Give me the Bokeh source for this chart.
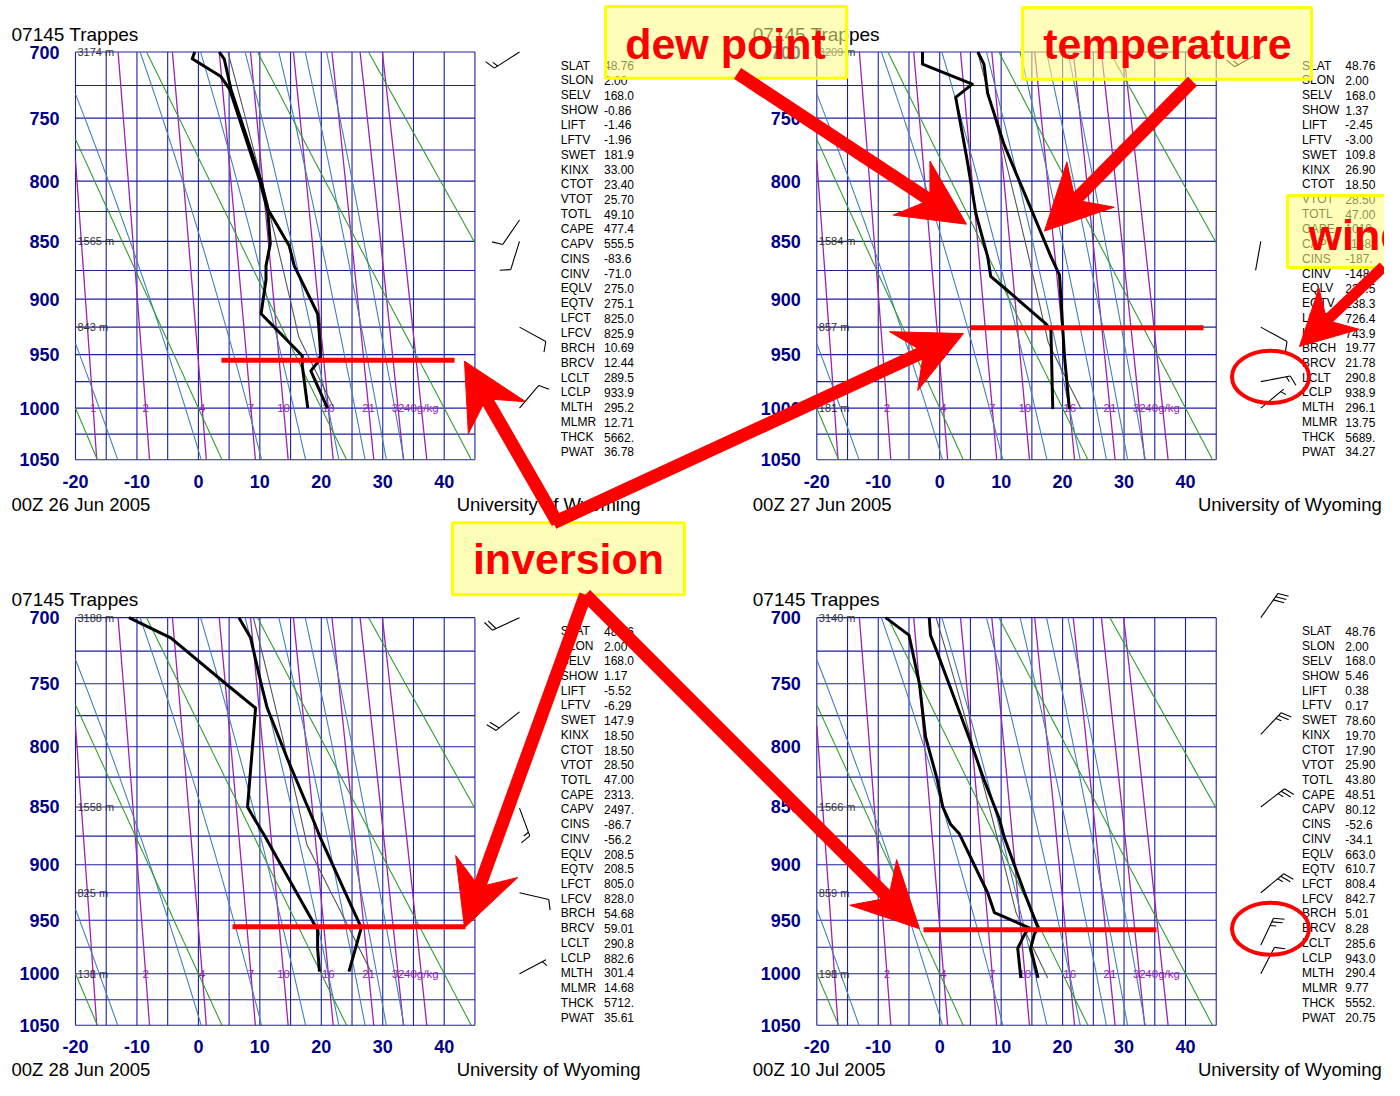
import math
import numpy as np
from bokeh.plotting import figure
from bokeh.models import Range1d
from bokeh.embed import file_html
from bokeh.resources import INLINE
from bokeh.core.properties import value

# ------------------------------------------------------------------ data
STATION_TITLE = "07145  Trappes"
CREDIT = "University of Wyoming"
DATES = ["00Z 26 Jun 2005", "00Z 27 Jun 2005", "00Z 28 Jun 2005", "00Z 10 Jul 2005"]

T_TICKS = [-20, -10, 0, 10, 20, 30, 40]
P_TICKS = [700, 750, 800, 850, 900, 950, 1000, 1050]
ISOTHERMS = [-20, -15, -10, -5, 0, 5, 10, 15, 20, 25, 30, 35, 40, 45]
ISOBARS = [700, 725, 750, 775, 800, 825, 850, 875, 900, 925, 950, 975, 1000, 1025, 1050]
DRY_THETA = [253.15, 273.15, 293.15, 313.15, 333.15, 353.15]
MOIST_THETAE = [260, 280, 300, 320, 340, 360, 380, 400]
MIX_RATIOS = [1, 2, 4, 7, 10, 16, 24, 32, 40]
MIX_LABELS = ["1", "2", "4", "7", "10", "16", "21", "32", "40g/kg"]

# 00Z 26 Jun 2005
S1_TP = [1000, 965, 957, 951, 925, 913, 871, 854, 824, 800, 728, 705, 700]
S1_T = [21.0, 18.3, 19.4, 19.9, 19.6, 19.4, 15.6, 14.8, 11.4, 10.2, 5.3, 4.2, 3.4]
S1_DP = [1000, 960, 951, 931, 913, 883, 871, 852, 825, 800, 728, 718, 705, 700]
S1_TD = [17.8, 16.9, 16.9, 13.4, 10.2, 11.0, 11.0, 11.7, 11.3, 10.0, 5.1, 3.6, -1.0, -0.6]
H1_P = [700, 850, 925]
H1 = [3174, 1565, 843]
W1_P = [700, 832, 850, 925, 1000]
W1_DIR = [237, 214, 197, 119, 40]
W1_SPD = [15, 10, 10, 10, 10]

# 00Z 27 Jun 2005
S2_TP = [1001, 951, 924, 897, 879, 863, 822, 771, 731, 709, 700]
S2_T = [21.1, 20.3, 20.0, 19.7, 19.5, 18.1, 14.8, 10.5, 7.8, 7.2, 6.2]
S2_DP = [1001, 928, 922, 890, 880, 863, 827, 784, 734, 724, 709, 700]
S2_TD = [18.4, 18.1, 17.3, 10.5, 8.3, 7.8, 5.9, 4.5, 2.6, 5.3, -2.8, -2.8]
H2_P = [700, 850, 925, 1000]
H2 = [3209, 1584, 857, 181]
W2_P = [700, 850, 925, 975, 1000]
W2_DIR = [240, 190, 119, 79, 50]
W2_SPD = [15, 2, 10, 15, 5]

# 00Z 28 Jun 2005
S3_TP = [998, 957, 953, 926, 877, 860, 810, 769, 750, 715, 700]
S3_T = [24.5, 26.5, 26.2, 24.0, 19.9, 18.6, 14.5, 11.2, 10.2, 8.5, 6.6]
S3_DP = [998, 976, 959, 953, 874, 860, 850, 800, 769, 751, 715, 700]
S3_TD = [19.7, 19.4, 19.4, 18.8, 10.7, 9.1, 8.0, 8.8, 9.3, 4.7, -4.5, -11.3]
H3_P = [700, 850, 925, 1000]
H3 = [3188, 1558, 825, 138]
W3_P = [700, 772, 851, 925, 1000]
W3_DIR = [245, 231, 160, 103, 62]
W3_SPD = [20, 20, 15, 10, 5]

# 00Z 10 Jul 2005
S4_TP = [1004, 976, 963, 957, 925, 876, 860, 827, 797, 726, 713, 700]
S4_T = [16.0, 14.8, 15.4, 16.0, 13.8, 10.5, 9.7, 7.2, 5.1, -0.4, -1.5, -1.7]
S4_DP = [1004, 976, 963, 957, 943, 925, 873, 865, 850, 827, 792, 750, 713, 700]
S4_TD = [13.2, 12.7, 13.8, 14.6, 8.9, 7.8, 3.2, 1.8, 0.5, -0.4, -2.3, -3.3, -5.0, -8.8]
H4_P = [700, 850, 925, 1000]
H4 = [3140, 1566, 859, 198]
W4_P = [700, 790, 850, 925, 973, 1000]
W4_DIR = [35, 43, 52, 50, 25, 27]
W4_SPD = [30, 25, 25, 25, 25, 10]

STAT_LABELS = ["SLAT", "SLON", "SELV", "SHOW", "LIFT", "LFTV", "SWET", "KINX", "CTOT",
               "VTOT", "TOTL", "CAPE", "CAPV", "CINS", "CINV", "EQLV", "EQTV", "LFCT",
               "LFCV", "BRCH", "BRCV", "LCLT", "LCLP", "MLTH", "MLMR", "THCK", "PWAT"]
STATS_1 = ["48.76", "2.00", "168.0", "-0.86", "-1.46", "-1.96", "181.9", "33.00", "23.40",
           "25.70", "49.10", "477.4", "555.5", "-83.6", "-71.0", "275.0", "275.1", "825.0",
           "825.9", "10.69", "12.44", "289.5", "933.9", "295.2", "12.71", "5662.", "36.78"]
STATS_2 = ["48.76", "2.00", "168.0", "1.37", "-2.45", "-3.00", "109.8", "26.90", "18.50",
           "28.50", "47.00", "1019.", "1148.", "-187.", "-148.", "238.5", "238.3", "726.4",
           "743.9", "19.77", "21.78", "290.8", "938.9", "296.1", "13.75", "5689.", "34.27"]
STATS_3 = ["48.76", "2.00", "168.0", "1.17", "-5.52", "-6.29", "147.9", "18.50", "18.50",
           "28.50", "47.00", "2313.", "2497.", "-86.7", "-56.2", "208.5", "208.5", "805.0",
           "828.0", "54.68", "59.01", "290.8", "882.6", "301.4", "14.68", "5712.", "35.61"]
STATS_4 = ["48.76", "2.00", "168.0", "5.46", "0.38", "0.17", "78.60", "19.70", "17.90",
           "25.90", "43.80", "48.51", "80.12", "-52.6", "-34.1", "663.0", "610.7", "808.4",
           "842.7", "5.01", "8.28", "285.6", "943.0", "290.4", "9.77", "5552.", "20.75"]

NOTE_TEXTS = ["dew point", "temperature", "wind", "inversion"]

# ------------------------------------------------------------------ layout (reference px)
W, H = 1384, 1080              # canvas size
VIEW_X = (3, 1387)             # reference px shown across the canvas width (1:1)
VIEW_Y = (0, 1096)             # reference px shown across the canvas height
PANEL_X0 = [78.0, 819.3, 78.0, 819.3]     # pixel of T=-20 (frame left)
PANEL_Y0 = [52.3, 52.3, 626.3, 626.3]     # pixel of 700 hPa (frame top)
PXT = 6.145                                 # px per degC
PXQ = 516.7                                 # px per unit of p**kappa
KAPPA = 0.286
TMIN, TMAX, PMIN, PMAX = -20.0, 45.0, 700.0, 1050.0
BARB_COL_PX = 444.0

NAVY = "#1e1ea4"
GREEN = "#2f9e2f"
STEEL = "#4480b8"
PURPLE = "#9c22b0"
FONT = value("Liberation Sans")


def q_of(p):
    return np.asarray(p, dtype=float) ** KAPPA


Q700 = float(q_of(700.0))
Q1000 = float(q_of(1000.0))
Q1050 = float(q_of(1050.0))


def esat(tc):
    return 6.112 * np.exp(17.67 * tc / (tc + 243.5))


def wsat(tc, p):
    e = esat(tc)
    return 622.0 * e / (p - e)


def thetae_sat(tc, p):
    tk = tc + 273.15
    w = wsat(tc, p)
    th = tk * (1000.0 / p) ** (0.2854 * (1 - 0.00028 * w))
    return th * np.exp((3.376 / tk - 0.00254) * w * (1 + 0.00081 * w))


def moist_t(te, p):
    lo, hi = -90.0, 60.0
    for _ in range(50):
        mid = 0.5 * (lo + hi)
        if thetae_sat(mid, p) > te:
            hi = mid
        else:
            lo = mid
    return 0.5 * (lo + hi)


def mixing_t(w, p):
    e = w * np.asarray(p, dtype=float) / (622.0 + w)
    l = np.log(e / 6.112)
    return 243.5 * l / (17.67 - l)


def clip_line(ts, ps):
    segs, cur = [], []
    for k in range(len(ts)):
        inside = TMIN <= ts[k] <= TMAX
        if k > 0:
            prev_in = TMIN <= ts[k - 1] <= TMAX
            if inside != prev_in:
                if prev_in:
                    b = TMIN if ts[k] < TMIN else TMAX
                else:
                    b = TMIN if ts[k - 1] < TMIN else TMAX
                f = (b - ts[k - 1]) / (ts[k] - ts[k - 1])
                cur.append((b, ps[k - 1] + f * (ps[k] - ps[k - 1])))
                if not inside:
                    segs.append(cur)
                    cur = []
        if inside:
            cur.append((ts[k], ps[k]))
    if cur:
        segs.append(cur)
    xs = [[float(a) for a, _ in s] for s in segs if len(s) > 1]
    ys = [[float(q_of(b)) for _, b in s] for s in segs if len(s) > 1]
    return xs, ys


PS = np.linspace(PMIN, PMAX, 141)
dry_xs, dry_ys, moist_xs, moist_ys, mix_xs, mix_ys = [], [], [], [], [], []
for th in DRY_THETA:
    a, b = clip_line(list(th * (PS / 1000.0) ** KAPPA - 273.15), list(PS))
    dry_xs += a; dry_ys += b
for te in MOIST_THETAE:
    a, b = clip_line([moist_t(te, pp) for pp in PS], list(PS))
    moist_xs += a; moist_ys += b
for wv in MIX_RATIOS:
    a, b = clip_line(list(mixing_t(wv, PS)), list(PS))
    mix_xs += a; mix_ys += b


def parcel(theta, lclp, psfc):
    pd = np.linspace(psfc, lclp, 20)
    td = theta * (pd / 1000.0) ** KAPPA - 273.15
    tl = theta * (lclp / 1000.0) ** KAPPA - 273.15
    te = thetae_sat(tl, lclp)
    pm = np.linspace(lclp, PMIN, 60)
    tm = [moist_t(te, pp) for pp in pm]
    return list(td) + tm, list(pd) + list(pm)


panels = [
    dict(tp=S1_TP, t=S1_T, dp=S1_DP, td=S1_TD, hp=H1_P, h=H1, wp=W1_P, wd=W1_DIR, ws=W1_SPD, st=STATS_1),
    dict(tp=S2_TP, t=S2_T, dp=S2_DP, td=S2_TD, hp=H2_P, h=H2, wp=W2_P, wd=W2_DIR, ws=W2_SPD, st=STATS_2),
    dict(tp=S3_TP, t=S3_T, dp=S3_DP, td=S3_TD, hp=H3_P, h=H3, wp=W3_P, wd=W3_DIR, ws=W3_SPD, st=STATS_3),
    dict(tp=S4_TP, t=S4_T, dp=S4_DP, td=S4_TD, hp=H4_P, h=H4, wp=W4_P, wd=W4_DIR, ws=W4_SPD, st=STATS_4),
]

p = figure(width=W, height=H, x_range=Range1d(VIEW_X[0], VIEW_X[1]), y_range=Range1d(VIEW_Y[1], VIEW_Y[0]),
           toolbar_location=None, output_backend="svg", min_border=0,
           x_axis_location=None, y_axis_location=None, outline_line_color=None)
p.min_border_left = p.min_border_right = p.min_border_top = p.min_border_bottom = 0
p.background_fill_color = "white"
p.border_fill_color = "white"
p.xgrid.visible = False
p.ygrid.visible = False

xr, yr = {}, {}
for i in range(4):
    x0, y0 = PANEL_X0[i], PANEL_Y0[i]
    xr[f"T{i}"] = Range1d(TMIN + (VIEW_X[0] - x0) / PXT, TMIN + (VIEW_X[1] - x0) / PXT)
    yr[f"Q{i}"] = Range1d(Q700 + (VIEW_Y[1] - y0) / PXQ, Q700 + (VIEW_Y[0] - y0) / PXQ)
p.extra_x_ranges = xr
p.extra_y_ranges = yr


def barbs(tcol, pres, dirs, spds):
    x0s, y0s, x1s, y1s = [], [], [], []
    L = 30.0
    for pr, d, s in zip(pres, dirs, spds):
        qs = float(q_of(pr))
        r = math.radians(d)
        ux, uy = math.sin(r), -math.cos(r)
        segs = [(0, 0, ux * L, uy * L)]
        a = math.radians(70)
        bx, by = ux * math.cos(a) - uy * math.sin(a), ux * math.sin(a) + uy * math.cos(a)
        nfull, half = int(s // 10), (s % 10) >= 5
        k = 0
        for _ in range(nfull):
            sx, sy = ux * (L - 4 * k), uy * (L - 4 * k)
            segs.append((sx, sy, sx + bx * 11, sy + by * 11))
            k += 1
        if half:
            kk = k if k > 0 else 1
            sx, sy = ux * (L - 4 * kk), uy * (L - 4 * kk)
            segs.append((sx, sy, sx + bx * 6, sy + by * 6))
        for (a0, b0, a1, b1) in segs:
            x0s.append(tcol + a0 / PXT); y0s.append(qs + b0 / PXQ)
            x1s.append(tcol + a1 / PXT); y1s.append(qs + b1 / PXQ)
    return x0s, y0s, x1s, y1s


for i, pn in enumerate(panels):
    kw = dict(x_range_name=f"T{i}", y_range_name=f"Q{i}")
    x0, y0 = PANEL_X0[i], PANEL_Y0[i]
    # grid
    p.multi_line(xs=[[t, t] for t in ISOTHERMS], ys=[[Q700, Q1050] for _ in ISOTHERMS],
                 line_color=NAVY, line_width=1.1, **kw)
    p.multi_line(xs=[[TMIN, TMAX] for _ in ISOBARS], ys=[[float(q_of(v))] * 2 for v in ISOBARS],
                 line_color=NAVY, line_width=1.1, **kw)
    # thermodynamic background
    p.multi_line(xs=mix_xs, ys=mix_ys, line_color=PURPLE, line_width=1.3, **kw)
    p.multi_line(xs=moist_xs, ys=moist_ys, line_color=STEEL, line_width=1.1, **kw)
    p.multi_line(xs=dry_xs, ys=dry_ys, line_color=GREEN, line_width=1.1, **kw)
    # labels on the diagram
    p.text(x=[float(mixing_t(wv, 1000.0)) for wv in MIX_RATIOS], y=[Q1000] * len(MIX_RATIOS),
           text=MIX_LABELS, text_font=FONT, text_font_size="11.5px", text_color=PURPLE,
           text_align="center", text_baseline="middle", **kw)
    p.text(x=[TMIN + 2 / PXT] * len(pn["hp"]), y=list(q_of(pn["hp"])), text=[f"{h} m" for h in pn["h"]],
           text_font=FONT, text_font_size="11px", text_color="#333333",
           text_align="left", text_baseline="middle", **kw)
    # parcel
    pt, pp_ = parcel(float(pn["st"][23]), float(pn["st"][22]), float(pn["tp"][0]))
    p.line(x=pt, y=list(q_of(pp_)), line_color="#555555", line_width=1.1, **kw)
    # sounding
    p.line(x=pn["td"], y=list(q_of(pn["dp"])), line_color="black", line_width=3, line_join="round", **kw)
    p.line(x=pn["t"], y=list(q_of(pn["tp"])), line_color="black", line_width=3, line_join="round", **kw)
    # winds
    tcol = TMIN + BARB_COL_PX / PXT
    bx0, by0, bx1, by1 = barbs(tcol, pn["wp"], pn["wd"], pn["ws"])
    p.segment(x0=bx0, y0=by0, x1=bx1, y1=by1, line_color="black", line_width=1.1, **kw)
    # axis tick labels
    p.text(x=T_TICKS, y=[Q1050 + 22 / PXQ] * len(T_TICKS), text=[str(t) for t in T_TICKS],
           text_font=FONT, text_font_size="18px", text_font_style="bold", text_color="#000088",
           text_align="center", text_baseline="middle", **kw)
    p.text(x=[TMIN - 16 / PXT] * len(P_TICKS), y=list(q_of(P_TICKS)), text=[str(v) for v in P_TICKS],
           text_font=FONT, text_font_size="18px", text_font_style="bold", text_color="#000088",
           text_align="right", text_baseline="middle", **kw)
    # page texts
    p.text(x=[x0 - 64], y=[y0 - 18.3], text=[STATION_TITLE], text_font=FONT, text_font_size="19px",
           text_color="black", text_align="left", text_baseline="middle")
    p.text(x=[x0 - 64], y=[y0 + 458.7], text=[DATES[i]], text_font=FONT, text_font_size="18.5px",
           text_color="black", text_align="left", text_baseline="middle")
    p.text(x=[x0 + 565], y=[y0 + 458.7], text=[CREDIT], text_font=FONT, text_font_size="18.5px",
           text_color="black", text_align="right", text_baseline="middle")
    ys = [y0 + 13.7 + k * 15.08 for k in range(len(STAT_LABELS))]
    p.text(x=[x0 + 485.3] * len(ys), y=ys, text=STAT_LABELS, text_font=FONT, text_font_size="12px",
           text_color="black", text_align="left", text_baseline="middle")
    p.text(x=[x0 + 528.5] * len(ys), y=ys, text=pn["st"], text_font=FONT, text_font_size="12px",
           text_color="black", text_align="left", text_baseline="middle")

# ------------------------------------------------------------------ annotations (reference px)
BOX_L = [608, 1025, 1290, 455]
BOX_R = [849, 1314, 1410, 687]
BOX_T = [6, 7, 198, 530]
BOX_B = [79, 80, 271, 603]
p.quad(left=BOX_L, right=BOX_R, top=BOX_T, bottom=BOX_B, fill_color="#ffff80", fill_alpha=0.55,
       line_color="#ffff00", line_width=3)
NOTE_X = [728, 1170, 1311, 571]
NOTE_Y = [44, 44, 238, 567]
NOTE_ALIGN = ["center", "center", "left", "center"]
for tx, nx, ny, na in zip(NOTE_TEXTS, NOTE_X, NOTE_Y, NOTE_ALIGN):
    p.text(x=[nx], y=[ny], text=[tx], text_font=FONT, text_font_size="43px", text_font_style="bold",
           text_color="#ff0000", text_align=na, text_baseline="middle")

INV_X0 = [224, 973, 235, 926]
INV_X1 = [457, 1206, 468, 1159]
INV_Y = [365, 332, 940, 943]
p.segment(x0=INV_X0, y0=INV_Y, x1=INV_X1, y1=INV_Y, line_color="#ff0000", line_width=5)

ARROWS = [
    ((740, 74), (969, 227), 66, 33, 44, 13),
    ((1195, 82), (1047, 234), 66, 33, 44, 13),
    ((1386, 270), (1302, 351), 55, 29, 38, 11),
    ((560, 530), (467, 366), 66, 33, 44, 13),
    ((556, 530), (966, 338), 66, 33, 44, 13),
    ((588, 603), (467, 941), 66, 33, 44, 13),
    ((588, 603), (922, 942), 66, 33, 44, 13),
]
sx0, sy0, sx1, sy1, sw, hx, hy = [], [], [], [], [], [], []
for (a, b, L, hw, na, wd) in ARROWS:
    dx, dy = a[0] - b[0], a[1] - b[1]
    n = math.hypot(dx, dy)
    ux, uy = dx / n, dy / n
    px_, py_ = -uy, ux
    notch = (b[0] + na * ux, b[1] + na * uy)
    sx0.append(a[0]); sy0.append(a[1]); sx1.append(notch[0]); sy1.append(notch[1]); sw.append(wd)
    hx.append([b[0], b[0] + L * ux + hw * px_, notch[0], b[0] + L * ux - hw * px_])
    hy.append([b[1], b[1] + L * uy + hw * py_, notch[1], b[1] + L * uy - hw * py_])
p.segment(x0=sx0, y0=sy0, x1=sx1, y1=sy1, line_color="#ff0000", line_width=sw)
p.patches(xs=hx, ys=hy, fill_color="#ff0000", line_color="#ff0000", line_width=1)

p.ellipse(x=[1273, 1273], y=[382, 942], width=[77, 77], height=[53, 53],
          fill_color=None, line_color="#ff0000", line_width=4)

open("out.html", "w").write(file_html(p, INLINE))
